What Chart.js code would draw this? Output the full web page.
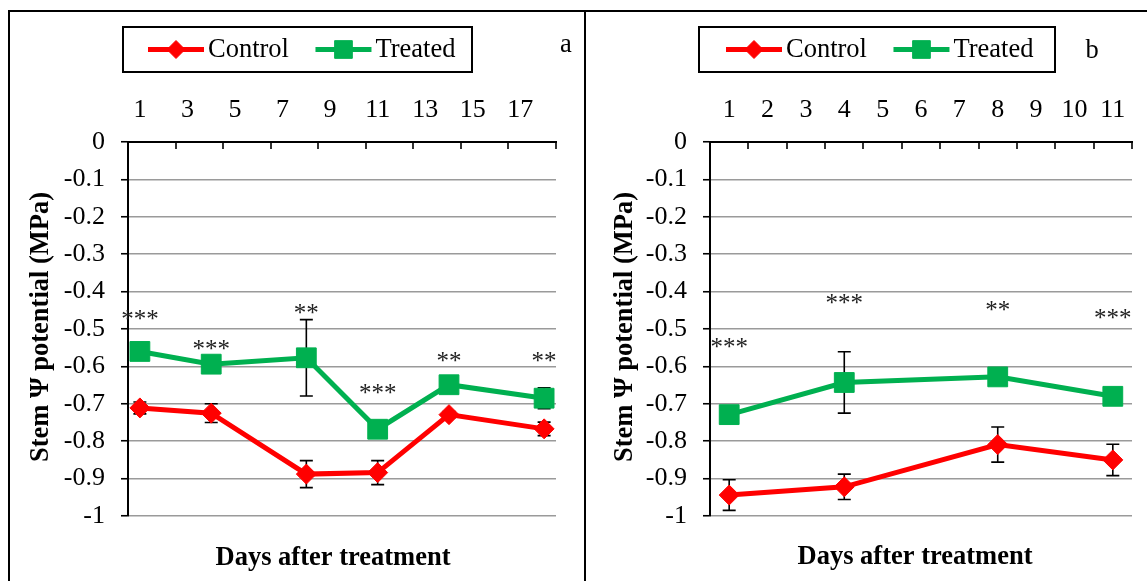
<!DOCTYPE html>
<html>
<head>
<meta charset="utf-8">
<title>Stem water potential</title>
<script src="https://cdn.jsdelivr.net/npm/chart.js@4.4.1/dist/chart.umd.min.js"></script>
<style>
  html, body { margin: 0; padding: 0; background: #fff; }
  #wrap { position: relative; width: 1147px; height: 581px; overflow: hidden; background: #fff; }
  #wrap canvas { position: absolute; top: 0; }
  .frame { position: absolute; background: #000; }
</style>
</head>
<body>
<div id="wrap">
  <canvas id="chartA" width="585" height="581" style="left:0"></canvas>
  <canvas id="chartB" width="562" height="581" style="left:585px"></canvas>
  <div class="frame" style="left:8px;top:10px;width:1139px;height:2px"></div>
  <div class="frame" style="left:8px;top:10px;width:2px;height:571px"></div>
  <div class="frame" style="left:584px;top:10px;width:2px;height:571px"></div>
</div>
<script>
// ---- Panel a: days 1-18 ----
const daysA = ['1','2','3','4','5','6','7','8','9','10','11','12','13','14','15','16','17','18'];
const sampleDaysA = ['1','4','8','11','14','18'];
const controlA    = [-0.711, -0.725, -0.888, -0.884, -0.729, -0.767];
const controlErrA = [ 0.016,  0.025,  0.036,  0.032,  0.008,  0.018];
const treatedA    = [-0.560, -0.594, -0.577, -0.768, -0.649, -0.685];
const treatedErrA = [ 0.010,  0.008,  0.102,  0.008,  0.010,  0.028];
const sigA        = ['***', '***', '**', '***', '**', '**'];
const sigLevelA   = [-0.461, -0.541, -0.445, -0.659, -0.571, -0.571];

// ---- Panel b: days 1-11 ----
const daysB = ['1','2','3','4','5','6','7','8','9','10','11'];
const sampleDaysB = ['1','4','8','11'];
const controlB    = [-0.944, -0.922, -0.809, -0.850];
const controlErrB = [ 0.041,  0.034,  0.047,  0.042];
const treatedB    = [-0.729, -0.643, -0.628, -0.680];
const treatedErrB = [ 0.010,  0.082,  0.010,  0.010];
const sigB        = ['***', '***', '**', '***'];
const sigLevelB   = [-0.536, -0.416, -0.435, -0.456];

const seriesNames = ['Control', 'Treated'];
const yTitle = 'Stem \u03A8 potential (MPa)';
const xTitle = 'Days after treatment';

const RED = '#FF0000';
const GREEN = '#00B050';
const SERIF = '"Liberation Serif", "Times New Roman", serif';

Chart.defaults.color = '#000';
Chart.defaults.font.family = SERIF;

// Error bars, significance stars, legend box, axis titles and inward x ticks
const decorations = {
  id: 'decorations',
  beforeDatasetsDraw(chart) {
    const ctx = chart.ctx;
    const y = chart.scales.y;
    ctx.save();
    ctx.strokeStyle = '#000';
    ctx.lineWidth = 1.6;
    chart.data.datasets.forEach((ds, di) => {
      const meta = chart.getDatasetMeta(di);
      meta.data.forEach((pt, i) => {
        const v = ds.data[i].y, e = ds.errors[i];
        const top = y.getPixelForValue(v + e), bot = y.getPixelForValue(v - e);
        ctx.beginPath();
        ctx.moveTo(pt.x, top); ctx.lineTo(pt.x, bot);
        ctx.moveTo(pt.x - 6.5, top); ctx.lineTo(pt.x + 6.5, top);
        ctx.moveTo(pt.x - 6.5, bot); ctx.lineTo(pt.x + 6.5, bot);
        ctx.stroke();
      });
    });
    ctx.restore();
  },
  afterDraw(chart, args, o) {
    const ctx = chart.ctx;
    const xs = chart.scales.x, ys = chart.scales.y;
    ctx.save();

    // inward tick marks on the top axis
    ctx.strokeStyle = '#000';
    ctx.lineWidth = 1.6;
    const n = chart.data.labels.length;
    ctx.beginPath();
    for (let i = 0; i <= n; i += o.tickEvery) {
      const x = Math.round(xs.getPixelForValue(i - 0.5));
      ctx.moveTo(x, ys.top); ctx.lineTo(x, ys.top + 7);
    }
    ctx.stroke();

    // significance stars
    ctx.fillStyle = '#222';
    ctx.font = '25px ' + SERIF;
    ctx.textAlign = 'center';
    ctx.textBaseline = 'alphabetic';
    const meta = chart.getDatasetMeta(1);
    o.sig.forEach((s, i) => {
      const x = meta.data[i].x;
      const yy = ys.getPixelForValue(o.sigLevel[i]) + 13;
      ctx.fillText(s, x, yy);
    });

    // axis titles
    ctx.fillStyle = '#000';
    ctx.font = 'bold 26.5px ' + SERIF;
    ctx.textBaseline = 'middle';
    ctx.fillText(xTitle, o.xTitleX, o.xTitleY);
    ctx.save();
    ctx.translate(o.yTitleX, o.yTitleY);
    ctx.rotate(-Math.PI / 2);
    ctx.fillText(yTitle, 0, 0);
    ctx.restore();

    // legend box
    const lb = o.legendBox;
    ctx.lineWidth = 2;
    ctx.strokeStyle = '#000';
    ctx.strokeRect(lb.left, lb.top, lb.width, lb.height);
    ctx.font = '26.5px ' + SERIF;
    ctx.textAlign = 'left';
    ctx.textBaseline = 'middle';
    let lx = lb.left + lb.pad;
    const ly = lb.top + lb.height / 2;
    chart.data.datasets.forEach((ds) => {
      ctx.strokeStyle = ds.borderColor;
      ctx.lineWidth = 5;
      ctx.beginPath();
      ctx.moveTo(lx, ly); ctx.lineTo(lx + 56, ly);
      ctx.stroke();
      ctx.fillStyle = ds.backgroundColor;
      ctx.lineWidth = 1;
      Chart.helpers.drawPoint(ctx, {pointStyle: ds.pointStyle, radius: ds.legendRadius, borderWidth: 1, rotation: 0}, lx + 28, ly);
      ctx.fillStyle = '#000';
      ctx.fillText(ds.label, lx + 60, ly + 1);
      lx += 60 + ctx.measureText(ds.label).width + 26.5;
    });

    // panel letter
    ctx.font = '26.5px ' + SERIF;
    ctx.textAlign = 'center';
    ctx.textBaseline = 'alphabetic';
    ctx.fillText(o.letter, o.letterX, o.letterY);

    ctx.restore();
  }
};

function buildChart(id, p) {
  const series = [
    {label: seriesNames[0], values: p.control, errors: p.controlErr, color: RED, style: 'rectRot', r: 10, lr: 9},
    {label: seriesNames[1], values: p.treated, errors: p.treatedErr, color: GREEN, style: 'rect', r: 14, lr: 12.5}
  ];
  return new Chart(document.getElementById(id), {
    type: 'line',
    data: {
      labels: p.days,
      datasets: series.map(s => ({
        label: s.label,
        data: p.sampleDays.map((d, i) => ({x: d, y: s.values[i]})),
        errors: s.errors,
        borderColor: s.color,
        backgroundColor: s.color,
        pointBackgroundColor: s.color,
        pointBorderColor: s.color,
        pointBorderWidth: 1,
        borderWidth: 5,
        pointStyle: s.style,
        pointRadius: s.r,
        legendRadius: s.lr,
        pointHoverRadius: s.r,
        tension: 0,
        spanGaps: true,
        fill: false
      }))
    },
    options: {
      responsive: false,
      animation: false,
      devicePixelRatio: 1,
      events: [],
      layout: {padding: p.padding},
      plugins: {
        legend: {display: false},
        tooltip: {enabled: false},
        decorations: p.deco
      },
      scales: {
        x: {
          type: 'category',
          position: 'top',
          offset: true,
          grid: {display: true, drawOnChartArea: false, drawTicks: false},
          border: {display: true, color: '#000', width: 2},
          ticks: {
            autoSkip: false,
            maxRotation: 0,
            padding: 16,
            font: {size: 26},
            callback: (v, i) => (i % p.deco.tickEvery === 0 ? p.days[i] : '')
          },
          afterFit: (s) => { s.height = 70; }
        },
        y: {
          min: -1,
          max: 0,
          grid: {
            color: (c) => (c.tick && Math.abs(c.tick.value) < 1e-9 ? 'rgba(0,0,0,0)' : '#9a9a9a'),
            lineWidth: 1.5,
            tickColor: '#000',
            tickLength: 7,
            tickWidth: 1.6
          },
          border: {display: true, color: '#000', width: 2},
          ticks: {
            stepSize: 0.1,
            padding: 16,
            font: {size: 26},
            callback: (v) => String(Math.round(v * 10) / 10)
          },
          afterFit: (s) => { s.width = 100; }
        }
      }
    },
    plugins: [decorations]
  });
}

buildChart('chartA', {
  days: daysA, sampleDays: sampleDaysA,
  control: controlA, controlErr: controlErrA,
  treated: treatedA, treatedErr: treatedErrA,
  padding: {left: 28, right: 29, top: 72, bottom: 65},
  deco: {
    tickEvery: 2, sig: sigA, sigLevel: sigLevelA,
    xTitleX: 333, xTitleY: 558, yTitleX: 41, yTitleY: 327,
    legendBox: {left: 123, top: 27, width: 349, height: 45, pad: 25},
    letter: 'a', letterX: 566, letterY: 52
  }
});

buildChart('chartB', {
  days: daysB, sampleDays: sampleDaysB,
  control: controlB, controlErr: controlErrB,
  treated: treatedB, treatedErr: treatedErrB,
  padding: {left: 25, right: 14, top: 72, bottom: 65},
  deco: {
    tickEvery: 1, sig: sigB, sigLevel: sigLevelB,
    xTitleX: 330, xTitleY: 557, yTitleX: 40, yTitleY: 327,
    legendBox: {left: 114, top: 27, width: 356, height: 45, pad: 27},
    letter: 'b', letterX: 507, letterY: 58
  }
});
</script>
</body>
</html>
